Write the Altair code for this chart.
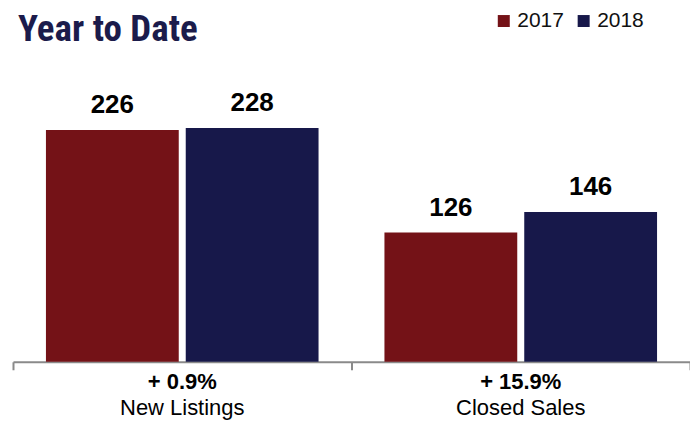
import altair as alt
import pandas as pd

categories = ["New Listings", "Closed Sales"]
years = ["2017", "2018"]
values_2017 = [226, 126]
values_2018 = [228, 146]
changes = ["+ 0.9%", "+ 15.9%"]
title_text = ["Year to Date"]

rows = []
for i, c in enumerate(categories):
    rows.append({"category": c, "year": years[0], "value": values_2017[i]})
    rows.append({"category": c, "year": years[1], "value": values_2018[i]})
bars_df = pd.DataFrame(rows)
cat_df = pd.DataFrame({"category": categories, "change": changes})
title_df = pd.DataFrame({"t": title_text})

W, H = 678, 308
FONT = "Liberation Sans"
AXIS_GRAY = "#8a8a8a"

x = alt.X(
    "category:N",
    sort=categories,
    scale=alt.Scale(paddingInner=0, paddingOuter=0),
    axis=alt.Axis(
        labels=False, title=None, ticks=True, tickBand="extent", tickSize=8,
        tickColor=AXIS_GRAY, tickWidth=2, domainColor=AXIS_GRAY, domainWidth=2,
        grid=False,
    ),
)
xo = alt.XOffset("year:N", sort=years,
                 scale=alt.Scale(paddingInner=0.05, paddingOuter=0.2357))
y = alt.Y("value:Q", scale=alt.Scale(domain=[0, 300]), axis=None)
color = alt.Color(
    "year:N", sort=years,
    scale=alt.Scale(domain=years, range=["#741217", "#17184a"]),
    legend=alt.Legend(
        title=None, orient="none", legendX=481, legendY=-44,
        direction="horizontal", symbolType="square", symbolSize=144,
        symbolStrokeWidth=0, labelFontSize=21, labelFont=FONT,
        labelColor="#111111", columnPadding=9, labelOffset=3, padding=0,
    ),
)

bars = alt.Chart(bars_df).mark_bar().encode(x=x, xOffset=xo, y=y, color=color)
vals = alt.Chart(bars_df).mark_text(
    baseline="alphabetic", dy=-17, fontSize=26, fontWeight="bold",
    font=FONT, color="#000000",
).encode(x=x, xOffset=xo, y=y, text="value:Q")

pct = alt.Chart(cat_df).mark_text(
    baseline="alphabetic", fontSize=22, fontWeight="bold", font=FONT,
    color="#000000",
).encode(x=alt.X("category:N", sort=categories), y=alt.value(H + 27),
         text="change:N")
lab = alt.Chart(cat_df).mark_text(
    baseline="alphabetic", fontSize=22, font=FONT, color="#000000",
).encode(x=alt.X("category:N", sort=categories), y=alt.value(H + 53),
         text="category:N")

title = alt.Chart(title_df).mark_text(
    baseline="alphabetic", align="left", fontSize=37, fontWeight="bold",
    font="Roboto Condensed, Liberation Sans Narrow, Lato", color="#1b1b4b",
).encode(x=alt.value(5), y=alt.value(-13), text="t:N")

chart = alt.layer(bars, vals, pct, lab, title).properties(
    width=W, height=H,
    autosize=alt.AutoSizeParams(type="none"),
    padding={"left": 5, "top": 46, "right": 0, "bottom": 58},
).configure_view(stroke=None)

chart.save("out.html", embed_options={"renderer": "svg", "actions": False})
